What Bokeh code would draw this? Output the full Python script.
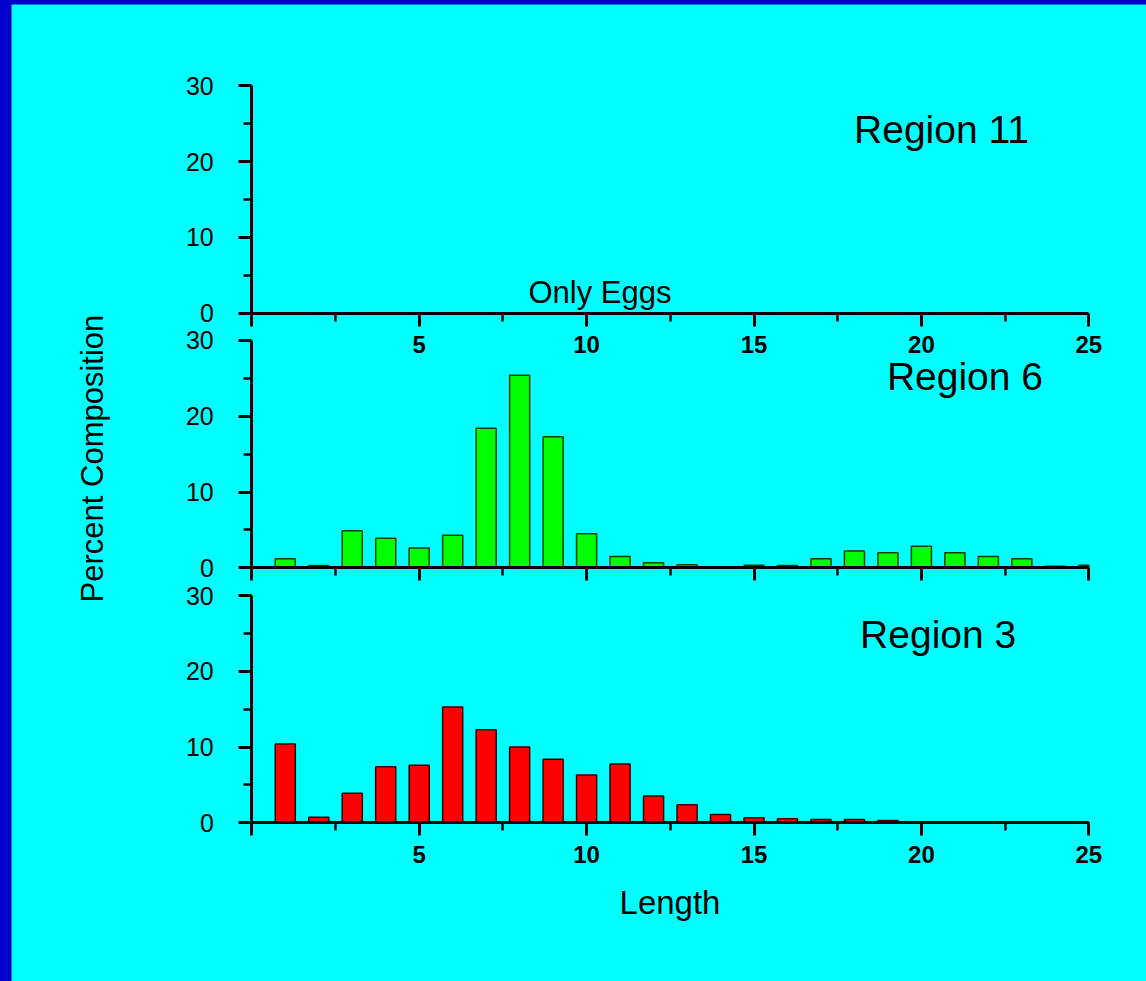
import math
from bokeh.plotting import figure
from bokeh.models import Range1d, LinearAxis, FixedTicker, Label
from bokeh.layouts import column
from bokeh.embed import file_html
from bokeh.resources import INLINE

# ---------------- data ----------------
lengths = list(range(1, 26))
region11_pct = []  # only eggs were found, no length classes
region6_pct = [1.2, 0.3, 4.9, 3.9, 2.6, 4.3, 18.4, 25.4, 17.3, 4.5, 1.5, 0.66, 0.4,
               0.0, 0.35, 0.3, 1.2, 2.2, 2.0, 2.85, 2.0, 1.5, 1.2, 0.2, 0.35]
region3_pct = [10.4, 0.75, 3.9, 7.4, 7.6, 15.3, 12.3, 10.0, 8.4, 6.3, 7.75, 3.55, 2.4,
               1.1, 0.66, 0.53, 0.44, 0.44, 0.3, 0.15, 0.1, 0.1, 0.1, 0.05, 0.05]
y_ticks = [0, 10, 20, 30]
y_minor = [5, 15, 25]
x_ticks = [0, 5, 10, 15, 20, 25]
x_minor = [2.5, 7.5, 12.5, 17.5, 22.5]
panel_titles = ["Region 11", "Region 6", "Region 3"]
note_text = "Only Eggs"
x_title = "Length"
y_title = "Percent Composition"

FONT = "Liberation Sans"
CYAN = "#00FFFF"
X_MIN, X_MAX = 0, 25
BAR_HALF = 0.3

# the plotting frame covers the whole canvas; each panel has its own y range
p = figure(width=1135, height=977,
           x_range=Range1d(-7.177, 26.723), y_range=Range1d(-20.94, 108.0),
           output_backend="svg", toolbar_location=None,
           min_border=0, min_border_left=0, min_border_right=0,
           min_border_top=0, min_border_bottom=0,
           background_fill_color=CYAN, border_fill_color=CYAN,
           outline_line_color=None)
p.margin = (4, 0, 0, 11)
p.grid.visible = False
p.extra_y_ranges = {"mid": Range1d(-54.60, 74.34), "top": Range1d(-88.20, 40.74)}


def style_axis(ax, ticks, minor, bold, standoff, overrides):
    ax.ticker = FixedTicker(ticks=ticks, minor_ticks=minor)
    ax.axis_line_width = 3
    ax.axis_line_color = "black"
    ax.major_tick_line_width = 3
    ax.minor_tick_line_width = 2.5
    ax.major_tick_line_color = "black"
    ax.minor_tick_line_color = "black"
    ax.major_tick_out = 13
    ax.major_tick_in = 0
    ax.minor_tick_out = 8
    ax.minor_tick_in = 0
    ax.major_label_text_font = FONT
    ax.major_label_text_font_size = "24px" if bold else "25px"
    ax.major_label_text_font_style = "bold" if bold else "normal"
    ax.major_label_text_color = "black"
    ax.major_label_standoff = standoff
    ax.major_label_overrides = overrides


# bottom panel axes (default axes pinned at the panel origin)
xa = p.xaxis[0]
xa.fixed_location = 0
xa.bounds = (X_MIN, X_MAX)
style_axis(xa, x_ticks, x_minor, True, 10, {0: ""})
xa.axis_label = x_title
xa.axis_label_text_font = FONT
xa.axis_label_text_font_size = "33px"
xa.axis_label_text_font_style = "normal"
xa.axis_label_text_color = "black"
xa.axis_label_standoff = 18

ya = p.yaxis[0]
ya.fixed_location = 0
ya.bounds = (0, 30)
style_axis(ya, y_ticks, y_minor, False, 25, {})

# middle and top panel axes
for name, labelled in (("mid", False), ("top", True)):
    yax = LinearAxis(y_range_name=name, fixed_location=0, bounds=(0, 30))
    style_axis(yax, y_ticks, y_minor, False, 25, {})
    p.add_layout(yax, "left")
    xax = LinearAxis(y_range_name=name, fixed_location=0, bounds=(X_MIN, X_MAX))
    if labelled:
        style_axis(xax, x_ticks, x_minor, True, 10, {0: ""})
    else:
        style_axis(xax, x_ticks, x_minor, True, 10, {t: "" for t in x_ticks})
    p.add_layout(xax, "below")

# bars (cut at the end of the length axis, as in the original)
lefts = [max(x - BAR_HALF, X_MIN) for x in lengths]
rights = [min(x + BAR_HALF, X_MAX) for x in lengths]
p.quad(left=lefts, right=rights, top=region6_pct, bottom=0, y_range_name="mid",
       fill_color="#00FF00", line_color="#004000", line_width=1.5)
p.quad(left=lefts, right=rights, top=region3_pct, bottom=0,
       fill_color="#FF0000", line_color="#400000", line_width=1.5)


# texts
def add_label(x, y, rng, text, size, **kw):
    lab = Label(x=x, y=y, text=text, text_font=FONT, text_font_size=size,
                text_color="black", **kw)
    if rng:
        lab.y_range_name = rng
    p.add_layout(lab)


add_label(20.6, 24.2, "top", panel_titles[0], "39px", text_align="center", text_baseline="alphabetic")
add_label(21.3, 25.3, "mid", panel_titles[1], "39px", text_align="center", text_baseline="alphabetic")
add_label(20.5, 24.8, None, panel_titles[2], "39px", text_align="center", text_baseline="alphabetic")
add_label(10.4, 2.75, "top", note_text, "31px", text_align="center", text_baseline="alphabetic")
add_label(-4.76, 48.08, None, y_title, "31px", text_align="center", text_baseline="middle",
          angle=math.pi / 2)

root = column(p, styles={"background-color": "#0000CC"})
open("out.html", "w").write(file_html(root, INLINE))
